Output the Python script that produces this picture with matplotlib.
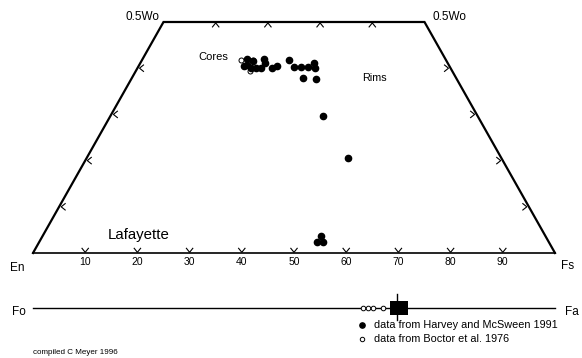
import numpy as np
import matplotlib
matplotlib.use("Agg")
from matplotlib import pyplot as plt

plt.rcParams['font.family'] = ['Liberation Sans', 'DejaVu Sans']

# pyroxene analyses (Wo, Fs in mol %)
hm_wo = [41.9, 41.6, 41.9, 40.5, 40.7, 40.1, 40.1, 40.0, 41.1, 40.0, 40.5, 41.7,
         40.3, 40.3, 40.3, 41.2, 40.0, 37.9, 37.7, 29.7, 20.5, 3.7, 2.3, 2.4]
hm_fs = [20.1, 21.3, 23.3, 20.2, 20.7, 21.7, 22.7, 23.6, 23.9, 25.7, 26.5, 28.1,
         29.8, 31.2, 32.6, 33.2, 34.0, 32.8, 35.4, 40.7, 50.1, 53.3, 53.2, 54.4]
bo_wo = [41.7, 41.7, 39.4]
bo_fs = [19.0, 21.3, 21.9]

# olivine (Fa mol %)
ol_bo_fa = [63.2, 64.2, 65.1, 67.0]
ol_hm_lo = 68.3
ol_hm_hi = 71.8
ol_hm_mean = 69.8

bottom_ticks = [10, 20, 30, 40, 50, 60, 70, 80, 90]
side_ticks = [10, 20, 30, 40]

SX = 5.22   # px per x unit
SY = 4.62   # px per Wo unit

def xy(wo, fs):
    wo = np.asarray(wo, float)
    fs = np.asarray(fs, float)
    return fs + wo / 2, wo

fig = plt.figure(figsize=(5.82, 3.58), dpi=100)
ax = fig.add_axes([0, 0, 1, 1])
ax.set_xlim(-33 / SX, (582 - 33) / SX)
ax.set_ylim(-105 / SY, 253 / SY)
ax.axis('off')

# quadrilateral
ax.plot([0, 25, 75, 100], [0, 50, 50, 0], color='black', lw=1.6, solid_joinstyle='miter')
ax.plot([0, 100], [0, 0], color='black', lw=1.2)

# chevron ticks, tip on the edge, arms pointing inwards (offsets in px)
def chevron(x, y, a, b):
    ax.plot([x + a[0] / SX, x, x + b[0] / SX], [y + a[1] / SY, y, y + b[1] / SY],
            color='black', lw=0.8, solid_joinstyle='miter')

for t in bottom_ticks:
    chevron(t, 0.15, (-3.2, 4), (3.2, 4))
for w in side_ticks:
    chevron(w / 2 + 0.4, w, (4, 3.2), (4, -3.2))
    chevron(100 - w / 2 - 0.4, w, (-4, 3.2), (-4, -3.2))
    chevron(25 + w, 50 - 0.2, (-3.2, -4), (3.2, -4))

for t in bottom_ticks:
    ax.text(t, -1.95, str(t), ha='center', va='center', fontsize=7.5)

ax.text(24.3, 51.1, '0.5Wo', ha='right', va='center', fontsize=8.5)
ax.text(76.6, 51.1, '0.5Wo', ha='left', va='center', fontsize=8.5)
ax.text(-3.1, -3.3, 'En', ha='center', va='center', fontsize=8.5)
ax.text(102.4, -2.9, 'Fs', ha='center', va='center', fontsize=8.5)
ax.text(14.4, 3.9, 'Lafayette', ha='left', va='center', fontsize=10.8)
ax.text(31.6, 42.4, 'Cores', ha='left', va='center', fontsize=8)
ax.text(63.0, 37.9, 'Rims', ha='left', va='center', fontsize=7.8)

# pyroxene points
bx, by = xy(bo_wo, bo_fs)
ax.plot(bx, by, 'o', ms=3.6, mfc='white', mec='black', mew=0.7, zorder=3)
hx, hy = xy(hm_wo, hm_fs)
ax.plot(hx, hy, 'o', ms=4.5, color='black', zorder=4)

# olivine line
y_ol = -55 / SY
ax.plot([0, 100], [y_ol, y_ol], color='black', lw=1.0)
ax.text(-2.6, y_ol - 0.9, 'Fo', ha='center', va='center', fontsize=8.5)
ax.text(101.9, y_ol - 0.9, 'Fa', ha='left', va='center', fontsize=8.5)
ax.plot(ol_bo_fa, [y_ol] * len(ol_bo_fa), 'o', ms=3.3, mfc='white', mec='black', mew=0.7, zorder=3)
ax.fill_between([ol_hm_lo, ol_hm_hi], y_ol - 1.5, y_ol + 1.5, color='black', lw=0, zorder=4)
ax.plot([ol_hm_mean, ol_hm_mean], [y_ol - 2.7, y_ol + 3.1], color='black', lw=1.0, zorder=5)

# legend
ax.plot([63.0], [-15.5], 'o', ms=3.8, color='black')
ax.text(65.3, -15.5, 'data from Harvey and McSween 1991', ha='left', va='center', fontsize=7.8)
ax.plot([63.0], [-18.7], 'o', ms=3.2, mfc='white', mec='black', mew=0.7)
ax.text(65.3, -18.7, 'data from Boctor et al. 1976', ha='left', va='center', fontsize=7.8)

ax.text(0, -21.5, 'compiled C Meyer 1996', ha='left', va='center', fontsize=5.8)

fig.savefig('out.png', dpi=100)
